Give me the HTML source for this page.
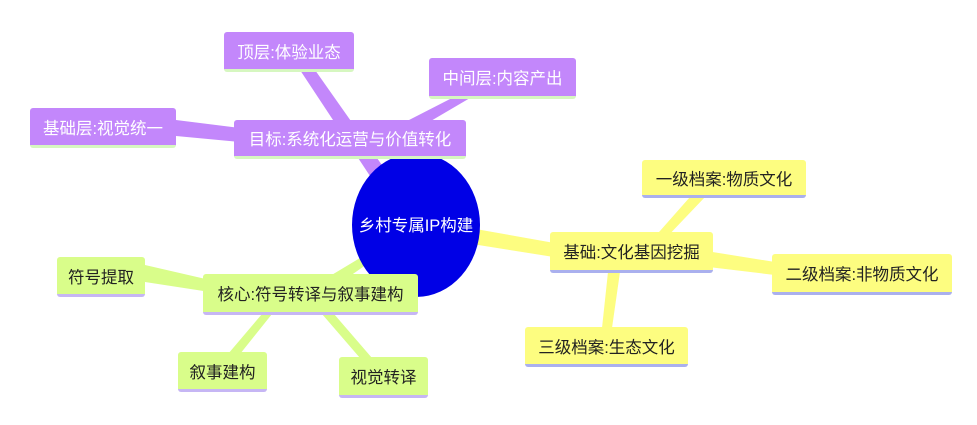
<!DOCTYPE html>
<html><head><meta charset="utf-8"><style>
body{margin:0;width:977px;height:425px;background:#fff;overflow:hidden;position:relative;font-family:"Liberation Sans","Noto Sans CJK SC",sans-serif}
.n{position:absolute;box-sizing:border-box;display:flex;align-items:center;justify-content:center;font-size:16.5px;border-radius:3px;white-space:nowrap}
.p{background:#c387fb;color:#fff;border-bottom:3px solid #d6f7c0}
.y{background:#fdfd80;color:#222;border-bottom:3px solid #aab0ee}
.g{background:#d9fd8a;color:#222;border-bottom:3px solid #c6b6f4}
svg{position:absolute;left:0;top:0}
</style></head><body>
<svg width="977" height="425">
<polygon points="370,176 384,168 315,70 300,70" fill="#c387fb"/>
<polygon points="370,140 378,152 470,98 452,98" fill="#c387fb"/>
<polygon points="176,120 176,136 240,142 240,128" fill="#c387fb"/>
<polygon points="470,228 472,244 560,258 560,244" fill="#fdfd80"/>
<polygon points="652,240 664,240 705,197 690,197" fill="#fdfd80"/>
<polygon points="700,250 700,266 775,275 775,262" fill="#fdfd80"/>
<polygon points="608,272 620,272 612,328 602,328" fill="#fdfd80"/>
<polygon points="360,258 370,262 330,290 310,288" fill="#d9fd8a"/>
<polygon points="145,265 145,282 210,292 210,280" fill="#d9fd8a"/>
<polygon points="262,314 272,314 240,354 228,354" fill="#d9fd8a"/>
<polygon points="322,314 334,314 372,358 360,358" fill="#d9fd8a"/>
<ellipse cx="416" cy="225" rx="64" ry="72" fill="#0000e6"/>
<text x="416" y="231" fill="#fff" font-size="16.5" text-anchor="middle" font-family="Liberation Sans,Noto Sans CJK SC,sans-serif">乡村专属IP构建</text>
</svg>
<div class="n p" style="left:224px;top:32px;width:130px;height:40px">顶层:体验业态</div>
<div class="n p" style="left:429px;top:58px;width:147px;height:41px">中间层:内容产出</div>
<div class="n p" style="left:30px;top:108px;width:146px;height:40px">基础层:视觉统一</div>
<div class="n p" style="left:234px;top:120px;width:232px;height:39px">目标:系统化运营与价值转化</div>
<div class="n y" style="left:642px;top:160px;width:164px;height:38px">一级档案:物质文化</div>
<div class="n y" style="left:550px;top:232px;width:163px;height:41px">基础:文化基因挖掘</div>
<div class="n y" style="left:772px;top:254px;width:180px;height:41px">二级档案:非物质文化</div>
<div class="n y" style="left:525px;top:327px;width:163px;height:40px">三级档案:生态文化</div>
<div class="n g" style="left:57px;top:257px;width:88px;height:40px">符号提取</div>
<div class="n g" style="left:203px;top:274px;width:215px;height:41px">核心:符号转译与叙事建构</div>
<div class="n g" style="left:178px;top:352px;width:89px;height:40px">叙事建构</div>
<div class="n g" style="left:339px;top:357px;width:89px;height:41px">视觉转译</div>
</body></html>
